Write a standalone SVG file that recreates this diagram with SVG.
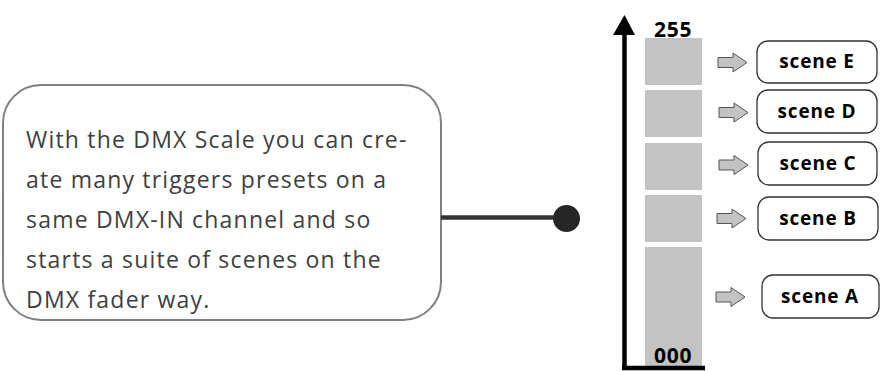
<svg xmlns="http://www.w3.org/2000/svg" width="882" height="371" viewBox="0 0 882 371">
<defs>
<style>
.note{font-family:"Open Sans","Noto Sans","Liberation Sans",sans-serif;font-size:23px;letter-spacing:1.2px;fill:#404040}
.bar{fill:#c3c3c3}
.scene rect{fill:#fff;stroke:#333;stroke-width:1.3}
.scene text{font-family:"Open Sans","Noto Sans","Liberation Sans",sans-serif;font-size:19px;letter-spacing:0.8px;font-weight:bold;fill:#000;text-anchor:middle}
.num{font-family:"Open Sans","Noto Sans","Liberation Sans",sans-serif;font-size:21px;letter-spacing:0.8px;font-weight:bold;fill:#000}
.barrow{fill:#c3c3c3;stroke:#555;stroke-width:1}
</style>
<path id="ba" d="M0,-5 H15 V-9.5 L29,0 L15,9.5 V5 H0 Z"/>
</defs>
<rect width="882" height="371" fill="#fff"/>
<g id="note">
<rect x="3" y="85" width="438" height="235" rx="38" fill="#fff" stroke="#808080" stroke-width="2"/>
<text class="note" x="26" y="148">With the DMX Scale you can cre-</text>
<text class="note" x="26" y="188">ate many triggers presets on a</text>
<text class="note" x="26" y="228">same DMX-IN channel and so</text>
<text class="note" x="26" y="268">starts a suite of scenes on the</text>
<text class="note" x="26" y="308">DMX fader way.</text>
</g>
<g id="scale">
<rect class="bar" x="645" y="38" width="57" height="47"/>
<rect class="bar" x="645" y="90" width="57" height="47"/>
<rect class="bar" x="645" y="143" width="57" height="47"/>
<rect class="bar" x="645" y="195" width="57" height="47"/>
<rect class="bar" x="645" y="247" width="57" height="119"/>
<line x1="624.5" y1="30" x2="624.5" y2="368" stroke="#000" stroke-width="4.5"/>
<line x1="622" y1="368" x2="705" y2="368" stroke="#000" stroke-width="4.5"/>
<polygon points="624.5,15 635,35 613,35" fill="#000"/>
<text class="num" x="654" y="37">255</text>
<text class="num" x="654" y="363">000</text>
</g>
<g id="connectors">
<line x1="441" y1="217.5" x2="560" y2="217.5" stroke="#333" stroke-width="4.5"/>
<circle cx="566.5" cy="218.5" r="13.5" fill="#262626"/>
<use href="#ba" class="barrow" x="718" y="62.5"/>
<use href="#ba" class="barrow" x="719" y="112.5"/>
<use href="#ba" class="barrow" x="719" y="165"/>
<use href="#ba" class="barrow" x="717" y="218.5"/>
<use href="#ba" class="barrow" x="716" y="297"/>
</g>
<g id="sceneE" class="scene"><rect x="757" y="41" width="120" height="42" rx="11"/><text x="817" y="68">scene E</text></g>
<g id="sceneD" class="scene"><rect x="757" y="90" width="120" height="43" rx="11"/><text x="817" y="118">scene D</text></g>
<g id="sceneC" class="scene"><rect x="758" y="142" width="119" height="43" rx="11"/><text x="818" y="170">scene C</text></g>
<g id="sceneB" class="scene"><rect x="758" y="197" width="120" height="43" rx="11"/><text x="818" y="225">scene B</text></g>
<g id="sceneA" class="scene"><rect x="762" y="275" width="117" height="43" rx="11"/><text x="820" y="303">scene A</text></g>
</svg>
